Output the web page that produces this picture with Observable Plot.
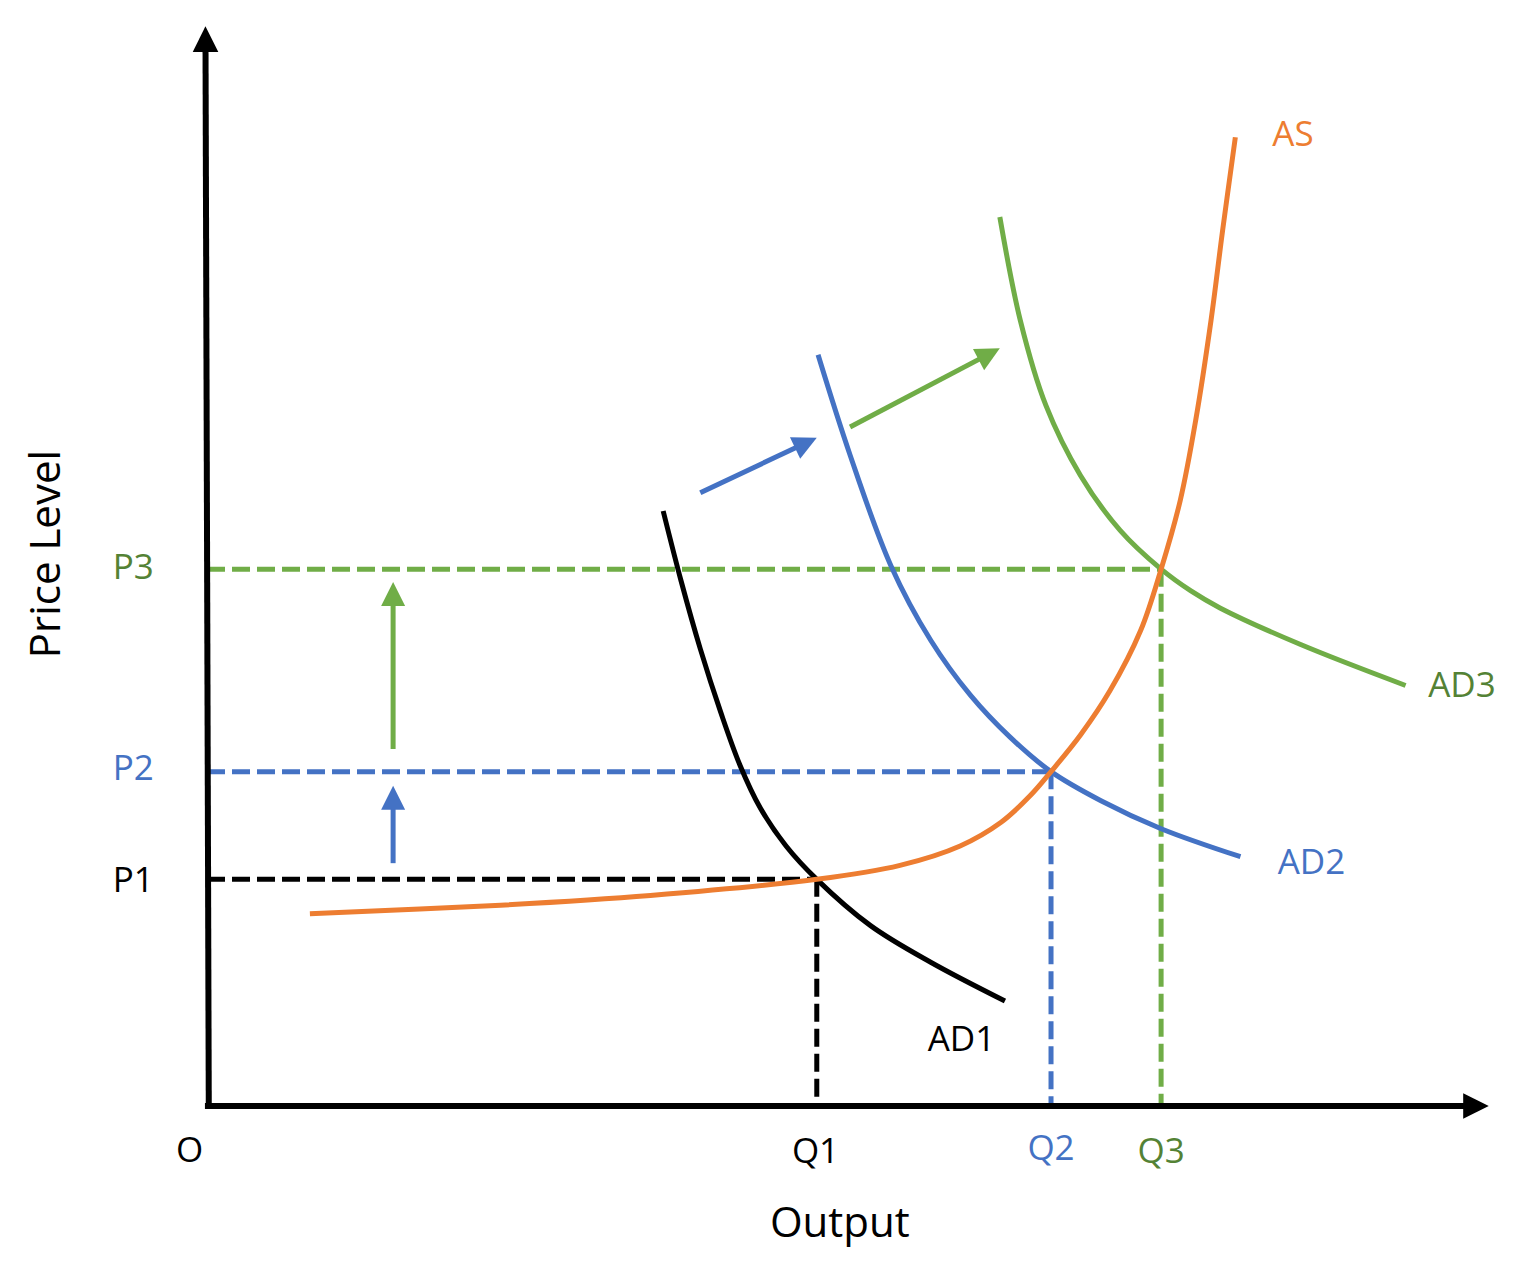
<!DOCTYPE html>
<html>
<head>
<meta charset="utf-8">
<script src="https://cdn.jsdelivr.net/npm/d3@7"></script>
<script src="https://cdn.jsdelivr.net/npm/@observablehq/plot@0.6"></script>
<style>
  html, body { margin: 0; padding: 0; background: #ffffff; }
  #chart svg { display: block; }
</style>
</head>
<body>
<div id="chart"></div>
<script>
// ---- Data (Output on x: 0..100, Price Level on y: 0..100; arbitrary units) ----
const levelNames = ["1", "2", "3"];
const qValues = [47.6, 65.9, 74.5];          // Q1, Q2, Q3
const pValues = [21.0, 31.0, 49.8];          // P1, P2, P3
const lineColors = ["#000000", "#4472C4", "#70AD47"];
const textColors = ["#000000", "#4472C4", "#548235"];
const asColor = "#ED7D31";

const asCurve = [[8.0,17.8],[22.9,18.6],[34.6,19.5],[47.6,21.0],[54.1,22.3],[58.8,24.1],[62.0,26.3],[64.3,28.8],[65.9,31.0],[68.2,34.4],[70.5,38.5],[72.9,44.1],[74.5,49.8],[76.0,56.2],[77.2,63.6],[78.4,72.9],[79.3,81.2],[80.3,89.9]];
const ad1Curve = [[35.6,55.2],[37.0,48.7],[38.5,42.4],[40.1,36.5],[41.6,31.6],[43.2,27.6],[45.2,24.1],[47.6,21.0],[51.8,16.7],[56.5,13.3],[62.3,9.7]];
const ad2Curve = [[47.7,69.7],[50.2,60.4],[53.4,50.1],[56.5,43.2],[59.6,38.1],[62.7,34.2],[65.9,31.0],[69.8,28.3],[74.5,25.7],[80.7,23.1]];
const ad3Curve = [[61.9,82.5],[63.5,72.9],[65.5,65.0],[68.2,58.5],[71.3,53.4],[74.5,49.8],[76.8,47.8],[79.1,46.2],[85.4,42.8],[93.6,39.0]];

// axes (start -> tip)
const axisStart = [[0.1, -0.28], [-0.2, -0.05]];
const axisTip   = [[-0.16, 100.2], [100.1, -0.05]];
// shift arrows (start -> tip)
const shiftStart = [[14.5, 22.5], [14.5, 33.1], [38.5, 56.9], [50.2, 63.0]];
const shiftTip   = [[14.5, 29.7], [14.5, 48.6], [47.6, 62.0], [61.9, 70.3]];
const shiftColors = ["#4472C4", "#70AD47", "#4472C4", "#70AD47"];

// text labels
const pLabelX = -5.8;
const pLabelY = [20.9, 31.3, 49.9];
const qLabelX = [47.5, 65.9, 74.5];
const qLabelY = [-4.27, -4.0, -4.27];
const curveLabels = ["AD1", "AD2", "AD3", "AS"];
const curveLabelX = [58.9, 86.25, 98.0, 84.8];
const curveLabelY = [6.1, 22.5, 39.0, 90.1];
const curveLabelColors = ["#000000", "#4472C4", "#548235", "#ED7D31"];
const originLabel = {text: "O", x: -1.4, y: -4.2};
const xTitle = {text: "Output", x: 49.4, y: -10.96};
const yTitle = {text: "Price Level", x: -12.6, y: 51.2};

// ---- Build tables ----
const xDomain = [0, 100], xRange = [207, 1487];
const yDomain = [0, 100], yRange = [1105, 28];
const xs = d3.scaleLinear(xDomain, xRange);
const ys = d3.scaleLinear(yDomain, yRange);
function angleOf(a, b) {
  const dx = xs(b[0]) - xs(a[0]);
  const dy = ys(b[1]) - ys(a[1]);
  return Math.atan2(dx, -dy) * 180 / Math.PI;
}
const guides = levelNames.map((n, i) => ({q: qValues[i], p: pValues[i], color: lineColors[i]}));
const axes = axisStart.map((s, i) => ({x1: s[0], y1: s[1], x2: axisTip[i][0], y2: axisTip[i][1], angle: angleOf(s, axisTip[i])}));
const shifts = shiftStart.map((s, i) => ({x1: s[0], y1: s[1], x2: shiftTip[i][0], y2: shiftTip[i][1], color: shiftColors[i], angle: angleOf(s, shiftTip[i])}));
const pLabels = levelNames.map((n, i) => ({text: "P" + n, x: pLabelX, y: pLabelY[i], color: textColors[i]}));
const qLabels = levelNames.map((n, i) => ({text: "Q" + n, x: qLabelX[i], y: qLabelY[i], color: textColors[i]}));
const cLabels = curveLabels.map((t, i) => ({text: t, x: curveLabelX[i], y: curveLabelY[i], color: curveLabelColors[i]}));

// filled triangular arrowhead, tip at origin pointing up
const headSymbol = {
  draw(context, size) {
    const r = Math.sqrt(size / Math.PI);
    context.moveTo(0, 0);
    context.lineTo(r, 2 * r);
    context.lineTo(-r, 2 * r);
    context.closePath();
  }
};

const font = "'Open Sans', 'Noto Sans', sans-serif";
const curveOpts = (stroke) => ({x: d => d[0], y: d => d[1], stroke, strokeWidth: 5, curve: "catmull-rom", strokeLinecap: "butt"});

const chart = Plot.plot({
  width: 1536,
  height: 1283,
  margin: 0,
  style: {background: "#ffffff", fontFamily: font},
  x: {domain: xDomain, range: xRange, axis: null},
  y: {domain: yDomain, range: yRange, axis: null},
  color: {type: "identity"},
  marks: [
    // dashed guides
    Plot.ruleY(guides, {y: "p", x1: 0, x2: "q", stroke: "color", strokeWidth: 5, strokeDasharray: "18,7"}),
    Plot.ruleX(guides, {x: "q", y1: "p", y2: 0, stroke: "color", strokeWidth: 5, strokeDasharray: "18,7"}),
    // curves
    Plot.line(ad1Curve, curveOpts("#000000")),
    Plot.line(ad2Curve, curveOpts("#4472C4")),
    Plot.line(ad3Curve, curveOpts("#70AD47")),
    Plot.line(asCurve, curveOpts(asColor)),
    // axes
    Plot.arrow(axes, {x1: "x1", y1: "y1", x2: "x2", y2: "y2", stroke: "#000000", strokeWidth: 6, insetEnd: 14, headLength: 0, strokeLinecap: "butt"}),
    Plot.dot(axes, {x: "x2", y: "y2", symbol: headSymbol, r: 12.8, fill: "#000000", stroke: "none", rotate: "angle"}),
    // shift arrows
    Plot.arrow(shifts, {x1: "x1", y1: "y1", x2: "x2", y2: "y2", stroke: "color", strokeWidth: 5, insetEnd: 14, headLength: 0, strokeLinecap: "butt"}),
    Plot.dot(shifts, {x: "x2", y: "y2", symbol: headSymbol, r: 12, fill: "color", stroke: "none", rotate: "angle"}),
    // labels
    Plot.text(pLabels, {x: "x", y: "y", text: "text", fill: "color", fontSize: 35, fontFamily: font}),
    Plot.text(qLabels, {x: "x", y: "y", text: "text", fill: "color", fontSize: 35, fontFamily: font}),
    Plot.text(cLabels, {x: "x", y: "y", text: "text", fill: "color", fontSize: 35, fontFamily: font}),
    Plot.text([originLabel], {x: "x", y: "y", text: "text", fill: "#000000", fontSize: 35, fontFamily: font}),
    Plot.text([xTitle], {x: "x", y: "y", text: "text", fill: "#000000", fontSize: 42, fontFamily: font}),
    Plot.text([yTitle], {x: "x", y: "y", text: "text", fill: "#000000", fontSize: 42, fontFamily: font, rotate: -90})
  ]
});
document.getElementById("chart").appendChild(chart);
</script>
</body>
</html>
